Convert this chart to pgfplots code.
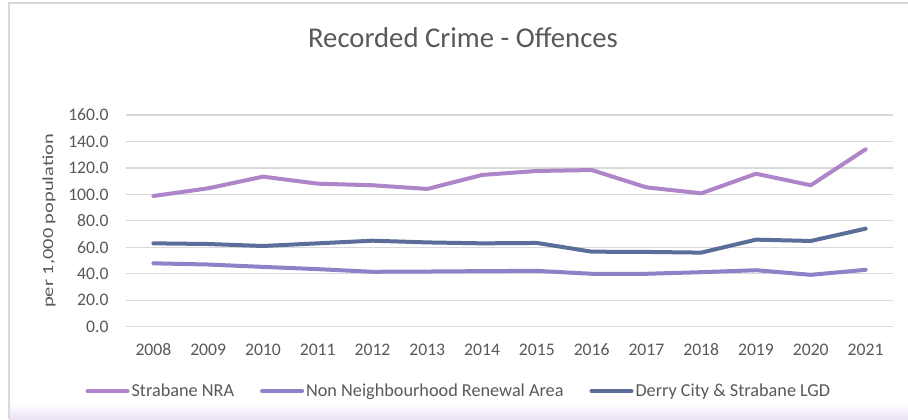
\documentclass[border=0pt]{standalone}
\usepackage{pgfplots}
\pgfplotsset{compat=1.18}
\usepackage{fontspec}
\setmainfont{Carlito}
\usetikzlibrary{shadings}

\definecolor{nra}{HTML}{AE85C8}
\definecolor{nonnra}{HTML}{8A83C8}
\definecolor{lgd}{HTML}{5B6D99}
\definecolor{txt}{HTML}{595959}
\definecolor{grd}{HTML}{D9D9D9}

\begin{document}
\begin{tikzpicture}[x=1bp,y=1bp]
\useasboundingbox (0,0) rectangle (908,419);
\fill[white] (0,0) rectangle (908,419);
\shade[bottom color={rgb,255:red,236;green,226;blue,245}, top color=white] (9,0) rectangle (908,16);
\draw[grd, line width=1.2bp] (9,0) -- (9,416) -- (908,416);
\node[txt, font=\fontsize{28.8}{32}\selectfont] at (463,381.5) {Recorded Crime - Offences};

\begin{axis}[
  at={(126bp,92.3bp)}, anchor=south west,
  scale only axis, width=767bp, height=211.7bp,
  xmin=2007.5, xmax=2021.5,
  ymin=0, ymax=160,
  xtick={2008,...,2021},
  xticklabels={2008,2009,2010,2011,2012,2013,2014,2015,2016,2017,2018,2019,2020,2021},
  ytick={0,20,...,160},
  /pgf/number format/assume math mode=true,
  axis line style={draw=none},
  tick style={draw=none},
  ymajorgrids, major grid style={grd, line width=1.2bp},
  ticklabel style={txt, font=\fontsize{17.7}{20}\selectfont},
  yticklabel style={xshift=-14bp, /pgf/number format/fixed, /pgf/number format/fixed zerofill, /pgf/number format/precision=1},
  xticklabel style={anchor=north, text height=11.5bp, text depth=0bp, yshift=-14bp},
  ylabel={\scalebox{1}[0.75]{per 1,000 population}},
  ylabel style={txt, font=\fontsize{20.5}{22}\selectfont, at={(axis description cs:-0.1004,0.5)}, anchor=center, rotate=0},
  legend columns=3,
  legend style={at={(axis description cs:0.434,-0.304)}, anchor=center, draw=none, fill=none,
    font=\fontsize{18.3}{20}\selectfont, text=txt,
    /tikz/every even column/.append style={column sep=24bp},
    inner sep=0pt},
  legend image code/.code={\draw[#1, line cap=round] (0bp,0bp) -- (40bp,0bp);},
  every axis plot/.append style={line width=4bp, line join=round, line cap=round},
]
\addplot[nra] coordinates {
  (2008,98.8) (2009,104.6) (2010,113.4) (2011,108.1) (2012,106.9) (2013,104.1) (2014,114.7)
  (2015,117.7) (2016,118.4) (2017,105.3) (2018,100.8) (2019,115.6) (2020,106.9) (2021,134.1)};
\addlegendentry{Strabane NRA}
\addplot[nonnra] coordinates {
  (2008,47.9) (2009,47.0) (2010,45.2) (2011,43.5) (2012,41.5) (2013,41.7) (2014,42.0)
  (2015,42.2) (2016,40.0) (2017,40.0) (2018,41.2) (2019,42.7) (2020,39.2) (2021,43.0)};
\addlegendentry{Non Neighbourhood Renewal Area}
\addplot[lgd] coordinates {
  (2008,63.0) (2009,62.5) (2010,61.0) (2011,63.0) (2012,65.0) (2013,63.7) (2014,63.0)
  (2015,63.3) (2016,56.7) (2017,56.5) (2018,56.0) (2019,65.8) (2020,64.8) (2021,74.1)};
\addlegendentry{Derry City \& Strabane LGD}
\end{axis}
\end{tikzpicture}
\end{document}
